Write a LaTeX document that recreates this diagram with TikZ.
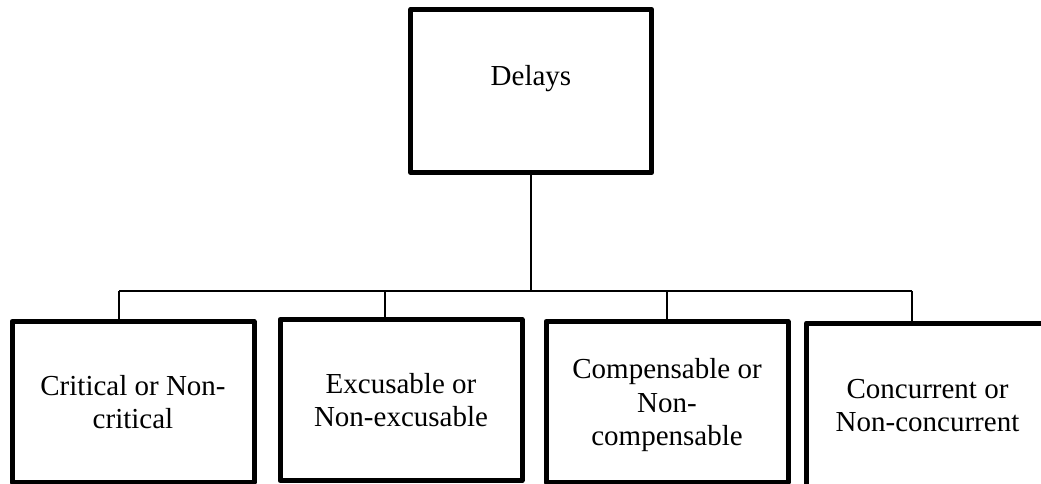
\documentclass[tikz,border=0pt]{standalone}
\usepackage{fontspec}
\setmainfont{Liberation Serif}
\begin{document}
\begin{tikzpicture}[x=0.75pt,y=-0.75pt,
    boxtext/.style={font=\fontsize{21.75pt}{25pt}\selectfont, align=center, inner sep=0pt},
    catbox/.style={draw, line width=3.75pt, line join=round, rectangle,
      minimum width=181.5pt, minimum height=121pt, boxtext},
    link/.style={draw, line width=1.1pt}]
  \useasboundingbox (0,0) rectangle (1041,484);
  \clip (0,0) rectangle (1041,484);

  % root box with its caption set above centre
  \node[catbox, minimum width=180.8pt, minimum height=122.5pt] (delays) at (531.25,90.9) {};
  \node[boxtext] (delays-text) at (531,78.5) {Delays};

  % the four categories
  \node[catbox] (crit) at (133,402) {Critical or Non-\\critical};
  \node[catbox] (excu) at (401,400) {Excusable or\\Non-excusable};
  \node[catbox] (comp) at (667,402) {Compensable or\\Non-\\\raisebox{0pt}[\height][0pt]{compensable}};
  \node[catbox, minimum height=123.75pt] (conc) at (927.5,405.5) {Concurrent or\\Non-concurrent};

  % tree connectors
  \coordinate (bus) at (531,291);
  \coordinate (d1) at (119,291);
  \coordinate (d2) at (385,291);
  \coordinate (d3) at (667,291);
  \coordinate (d4) at (912,291);
  \path[link] (delays.south -| bus) -- (bus);
  \path[link] (d1) -- (d4);
  \path[link] (d1) -- (d1 |- crit.north);
  \path[link] (d2) -- (d2 |- excu.north);
  \path[link] (d3) -- (d3 |- comp.north);
  \path[link] (d4) -- (d4 |- conc.north);
\end{tikzpicture}
\end{document}
